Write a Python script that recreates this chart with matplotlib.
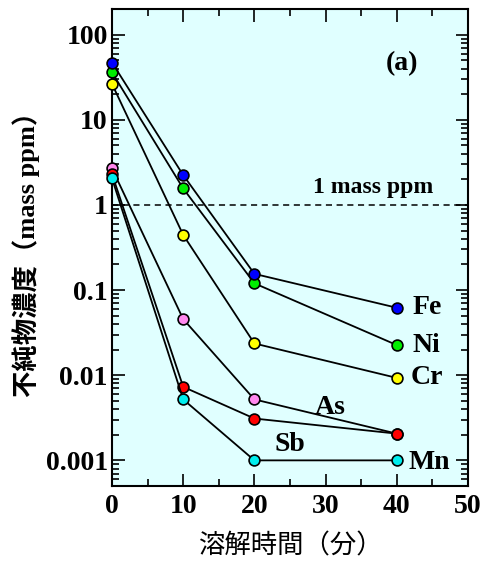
import matplotlib
matplotlib.use('Agg')
import matplotlib.pyplot as plt
from matplotlib.ticker import MultipleLocator, LogLocator, NullFormatter, FixedLocator, FixedFormatter

plt.rcParams['font.family'] = ['Liberation Serif', 'Noto Sans CJK JP']

t = [0, 10, 20, 40]
fe = [47, 2.24, 0.155, 0.062]
ni = [36, 1.56, 0.12, 0.0226]
cr = [26.4, 0.444, 0.0236, 0.0093]
as_ = [2.68, 0.0456, 0.0052, 0.00206]
sb = [2.3, 0.0073, 0.0031, 0.00206]
mn = [2.05, 0.0052, 0.001, 0.001]

series = [('Fe', fe, '#0000ff'), ('Ni', ni, '#00ee00'), ('Cr', cr, '#ffff00'),
          ('As', as_, '#ff88ee'), ('Sb', sb, '#ff0000'), ('Mn', mn, '#00eeee')]

fig = plt.figure(figsize=(4.86, 5.63), dpi=100)
ax = fig.add_axes([112/486, 1 - 486/563, 356/486, 477/563])
ax.set_facecolor('#e0ffff')

# drawing order so the right markers end up on top
order = ['Cr', 'Ni', 'Fe', 'As', 'Sb', 'Mn']
lookup = {s[0]: s for s in series}
for name in order:
    _, vals, col = lookup[name]
    ax.plot(t, vals, '-', color='black', lw=1.3, marker='o', markersize=7.8,
            markerfacecolor=col, markeredgecolor='black', markeredgewidth=1.2,
            clip_on=False, zorder=3)

ax.axhline(1, color='black', lw=1.1, ls=(0, (4, 3)), zorder=2)

ax.set_yscale('log')
ax.set_xlim(0, 50)
ax.set_ylim(0.0005, 200)

ax.xaxis.set_major_locator(MultipleLocator(10))
ax.xaxis.set_minor_locator(MultipleLocator(5))
ax.yaxis.set_major_locator(FixedLocator([0.001, 0.01, 0.1, 1, 10, 100]))
ax.yaxis.set_major_formatter(FixedFormatter(['0.001', '0.01', '0.1', '1', '10', '100']))
ax.yaxis.set_minor_locator(LogLocator(base=10, subs=range(2, 10), numticks=20))
ax.yaxis.set_minor_formatter(NullFormatter())

ax.tick_params(which='both', direction='in', top=True, right=True, width=1.2)
ax.tick_params(which='major', length=9, labelsize=20)
ax.tick_params(axis='y', which='major', pad=3)
ax.tick_params(axis='x', which='major', pad=6)
ax.tick_params(which='minor', length=5)
for lab in ax.get_xticklabels() + ax.get_yticklabels():
    lab.set_fontweight('bold')
for sp in ax.spines.values():
    sp.set_linewidth(1.5)

lbl = dict(fontsize=20, fontweight='bold')
ax.text(42.2, 0.062, 'Fe', ha='left', va='center', **lbl)
ax.text(42.2, 0.0226, 'Ni', ha='left', va='center', **lbl)
ax.text(41.9, 0.0093, 'Cr', ha='left', va='center', **lbl)
ax.text(30.6, 0.0042, 'As', ha='center', va='center', **lbl)
ax.text(25.0, 0.00155, 'Sb', ha='center', va='center', **lbl)
ax.text(41.7, 0.00095, 'Mn', ha='left', va='center', **lbl)
ax.text(40.7, 46, '(a)', ha='center', va='center', **lbl)
ax.text(36.7, 1.2, '1 mass ppm', ha='center', va='bottom', fontsize=17, fontweight='bold')

ax.set_xlabel('溶解時間（分）', fontsize=19, labelpad=10)
ax.set_ylabel('不純物濃度（mass ppm）', fontsize=19, fontweight='bold', labelpad=4)

fig.savefig('out.png', dpi=100)
